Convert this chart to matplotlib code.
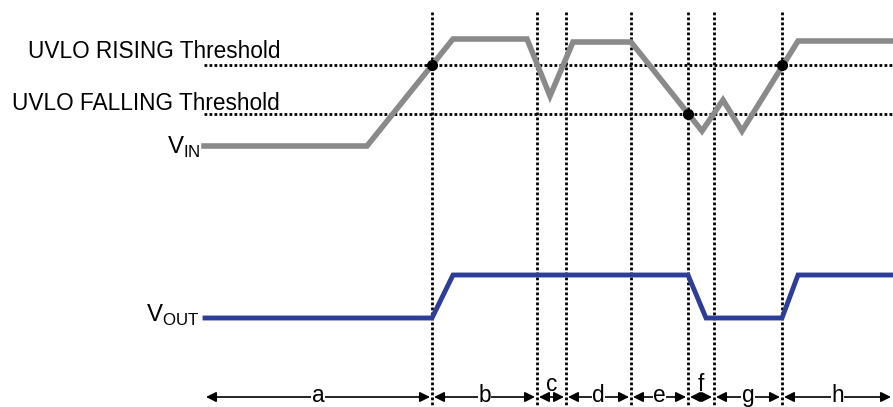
import matplotlib.pyplot as plt

plt.rcParams['font.family'] = 'Liberation Sans'
plt.rcParams['mathtext.fontset'] = 'custom'
plt.rcParams['mathtext.rm'] = 'Liberation Sans'

# waveform corner points (time, level), pixel units
vin_t = [204, 367, 453, 527, 550, 573, 631, 702, 723, 742, 798, 893]
vin_v = [146, 146, 39, 39, 96, 42, 42, 131, 100, 131, 41, 41]
vout_t = [205, 432, 453, 688, 706, 782, 798, 893]
vout_v = [318, 318, 275, 275, 318, 318, 275, 275]

rising_level = 64.5
falling_level = 114
# vertical event markers
events = [432, 537, 566, 631, 688, 714, 782]
cross_t = [432, 688, 782]
cross_v = [rising_level, falling_level, rising_level]

# interval labels
interval_edges = [204, 432, 537, 566, 631, 688, 714, 782, 893]
interval_names = ['a', 'b', 'c', 'd', 'e', 'f', 'g', 'h']
small_ones = ['c', 'f']

fig = plt.figure(figsize=(8.93, 4.07), dpi=100)
ax = fig.add_axes([0, 0, 1, 1])
ax.set_xlim(0, 893)
ax.set_ylim(407, 0)
ax.axis('off')

dots = (0, (1, 0.8))
ax.hlines([rising_level, falling_level], 204, 893, colors='black', linestyles=[dots], lw=2)
ax.vlines(events, 12, 407, colors='black', linestyles=[dots], lw=2)

ax.plot(vin_t, vin_v, color='#8a8a8a', lw=4, solid_joinstyle='miter')
ax.plot(vout_t, vout_v, color='#2c3e98', lw=3.5, solid_joinstyle='miter')
ax.plot(cross_t, cross_v, 'o', color='black', ms=7)

fs = 16.3
ax.text(280, 58, 'UVLO RISING Threshold', fontsize=fs, ha='right', va='baseline')
ax.text(280, 110, 'UVLO FALLING Threshold', fontsize=fs, ha='right', va='baseline')
ax.text(201, 154, r'V$_{\mathrm{IN}}$', fontsize=fs + 1, ha='right', va='baseline')
ax.text(199, 322, r'V$_{\mathrm{OUT}}$', fontsize=fs + 1, ha='right', va='baseline')

arrow_y = 397
for i, name in enumerate(interval_names):
    x0 = interval_edges[i] + 2
    x1 = interval_edges[i + 1] - 2
    ax.annotate('', xy=(x1, arrow_y), xytext=(x0, arrow_y),
                arrowprops=dict(arrowstyle='<|-|>', color='black', lw=1.2,
                                mutation_scale=15, shrinkA=0, shrinkB=0))
    xm = (x0 + x1) / 2
    if name in small_ones:
        ax.text(xm, 391, name, fontsize=fs, ha='center', va='baseline')
    else:
        ax.text(xm, 402, name, fontsize=fs, ha='center', va='baseline',
                bbox=dict(facecolor='white', edgecolor='none', pad=0.3))

fig.savefig('out.png', dpi=100)
